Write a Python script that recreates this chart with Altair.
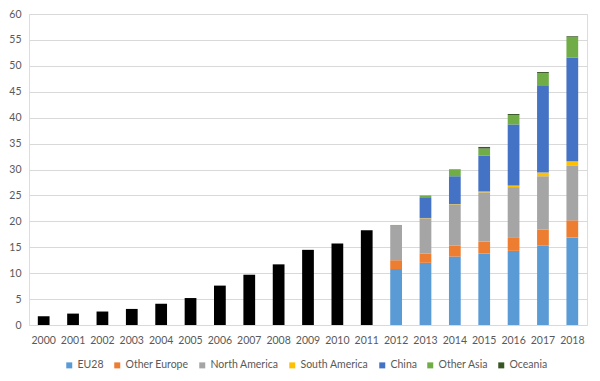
import altair as alt
import pandas as pd

years_total = [2000, 2001, 2002, 2003, 2004, 2005, 2006, 2007, 2008, 2009, 2010, 2011]
totals = [1.7, 2.2, 2.6, 3.1, 4.1, 5.2, 7.6, 9.7, 11.7, 14.5, 15.7, 18.3]

years_split = [2012, 2013, 2014, 2015, 2016, 2017, 2018]
regions = ["EU28", "Other Europe", "North America", "South America", "China", "Other Asia", "Oceania"]
colors = ["#5B9BD5", "#ED7D31", "#A5A5A5", "#FFC000", "#4472C4", "#70AD47", "#375623"]

eu28 = [10.8, 12.0, 13.2, 13.8, 14.3, 15.3, 16.9]
other_europe = [1.7, 1.8, 2.1, 2.3, 2.5, 3.1, 3.3]
north_america = [6.6, 6.8, 7.9, 9.5, 9.8, 10.3, 10.6]
south_america = [0.0, 0.05, 0.1, 0.15, 0.3, 0.7, 0.8]
china = [0.05, 3.85, 5.4, 6.9, 11.8, 16.7, 20.0]
other_asia = [0.15, 0.4, 1.3, 1.4, 1.8, 2.5, 3.9]
oceania = [0.0, 0.05, 0.05, 0.3, 0.2, 0.2, 0.2]

all_years = [str(y) for y in years_total + years_split]
series = [eu28, other_europe, north_america, south_america, china, other_asia, oceania]

df_total = pd.DataFrame({"year": [str(y) for y in years_total], "value": totals})
rows = []
for ri, (reg, vals) in enumerate(zip(regions, series)):
    for y, v in zip(years_split, vals):
        rows.append({"year": str(y), "region": reg, "value": v, "order": ri})
df_split = pd.DataFrame(rows)

FONT = "Lato"
GRAY = "#595959"
FS = 10.5

x_enc = alt.X("year:O", scale=alt.Scale(domain=all_years, paddingInner=0.6, paddingOuter=0.3),
              axis=alt.Axis(title=None, labelAngle=0, ticks=False, domain=False,
                            labelPadding=10, labelFontSize=FS, labelColor=GRAY, labelFont=FONT))
y_axis = alt.Axis(title=None, values=list(range(0, 61, 5)), ticks=False, domain=False,
                  labelPadding=8, labelFontSize=FS, labelColor=GRAY, labelFont=FONT,
                  gridColor="#D9D9D9", gridWidth=1)
y_scale = alt.Scale(domain=[0, 60], nice=False)

black = alt.Chart(df_total).mark_bar(color="black").encode(
    x=x_enc, y=alt.Y("value:Q", scale=y_scale, axis=y_axis))

stacked = alt.Chart(df_split).mark_bar().encode(
    x=x_enc,
    y=alt.Y("value:Q", stack="zero", scale=y_scale, axis=y_axis),
    color=alt.Color("region:N", scale=alt.Scale(domain=regions, range=colors),
                    legend=alt.Legend(title=None, orient="none", legendX=35, legendY=346,
                                      direction="horizontal", columns=7, columnPadding=8,
                                      symbolType="square", symbolSize=36, symbolStrokeWidth=0,
                                      labelOffset=3, labelFontSize=FS, labelColor=GRAY,
                                      labelFont=FONT)),
    order=alt.Order("order:Q", sort="ascending"),
)

chart = alt.layer(black, stacked).properties(
    width=558, height=311,
    autosize=alt.AutoSizeParams(type="none"),
    padding={"left": 21, "top": 6, "right": 5, "bottom": 48},
).configure_view(stroke=None).configure(background="white")

chart.save("out.html", embed_options={"renderer": "svg", "actions": False})
